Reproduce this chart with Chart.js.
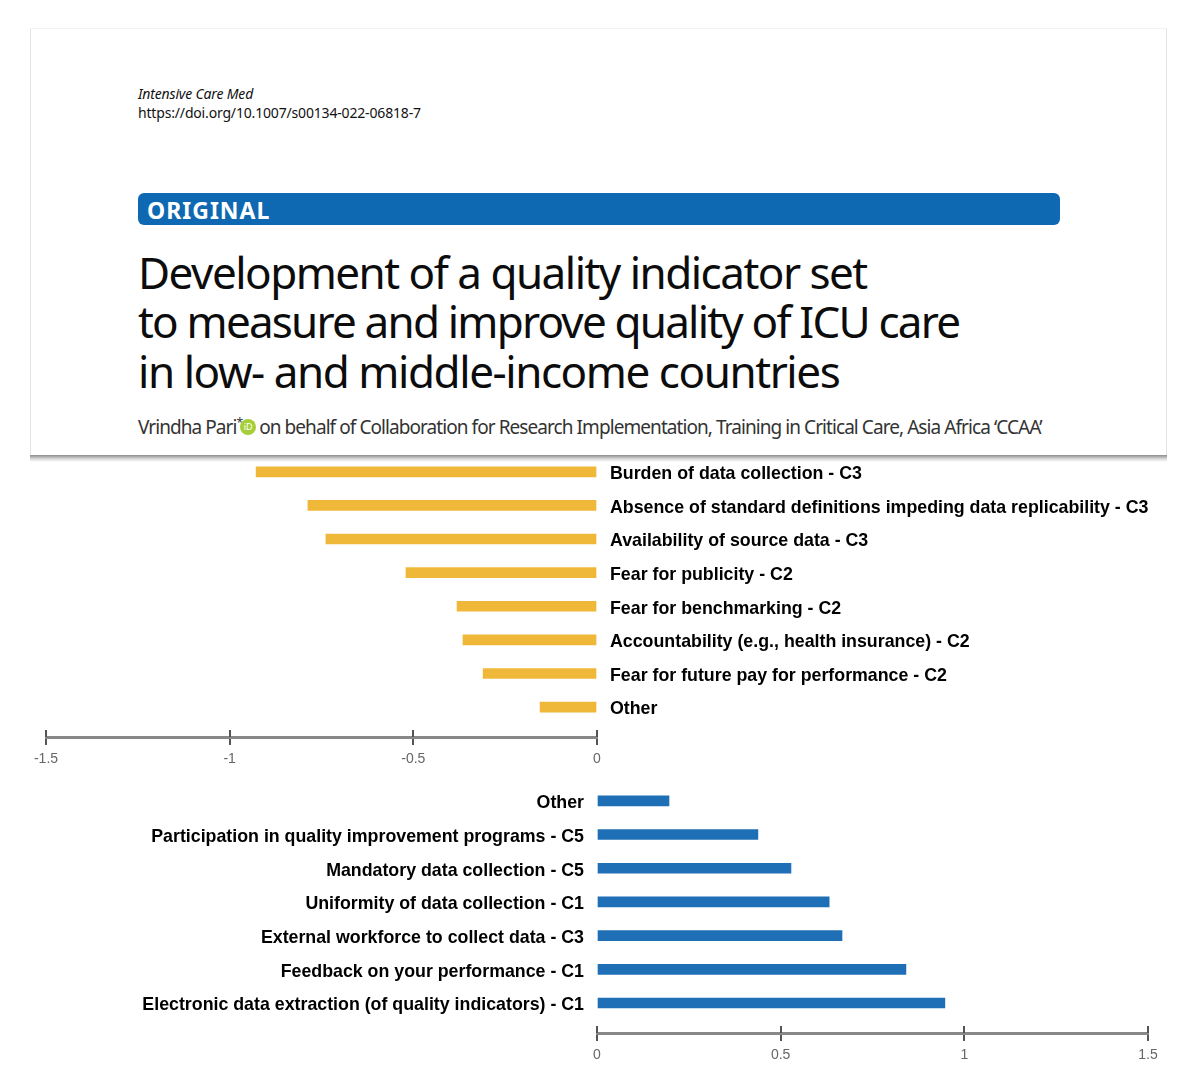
<!DOCTYPE html>
<html>
<head>
<meta charset="utf-8">
<title>ICU quality indicators</title>
<script src="https://cdn.jsdelivr.net/npm/chart.js"></script>
<style>
    html, body { margin: 0; padding: 0; background: #fff; }
    body { position: relative; width: 1200px; height: 1082px; overflow: hidden; font-family: "Noto Sans", sans-serif; color: #111; }
    .paper { position: absolute; left: 30px; top: 28px; width: 1137px; height: 428px; background: #fff;
        border-left: 1px solid #e4e4e4; border-right: 1px solid #e4e4e4; border-top: 1px solid #f3f3f3; box-sizing: border-box; }
    .edge { position: absolute; left: 30px; top: 455px; width: 1137px; height: 7px;
        background: linear-gradient(#8c8c8c, #d8d8d8 55%, #ffffff); }
    .line { position: absolute; white-space: nowrap; }
    .journal { left: 138px; top: 84px; font-size: 14px; font-style: italic; letter-spacing: -0.17px; }
    .doi { left: 138px; top: 103px; font-size: 14px; letter-spacing: -0.17px; }
    .band { position: absolute; left: 138px; top: 193px; width: 922px; height: 32px; background: #0f69b2; border-radius: 6px; }
    .band span { position: absolute; left: 9px; top: 1px; color: #fff; font-weight: 700; font-size: 23px; letter-spacing: 1px; }
    .title { left: 138px; font-size: 44px; color: #0c0c0c; }
    .authors { left: 138px; top: 414px; font-size: 19px; letter-spacing: -0.93px; color: #333; }
    .authors sup { font-size: 12px; line-height: 0; }
    .orcid { display: inline-block; width: 16px; height: 16px; line-height: 16px; border-radius: 50%; background: #a6ce39;
        color: #fff; font-size: 9px; text-align: center; letter-spacing: 0; vertical-align: 4px; margin: 0 3px 0 -2px; }
    canvas { position: absolute; left: 0; }
</style>
</head>
<body>
<div class="paper"></div>
<div class="edge"></div>
<div class="line journal">Intensive Care Med</div>
<div class="line doi">https://doi.org/10.1007/s00134-022-06818-7</div>
<div class="band"><span>ORIGINAL</span></div>
<div class="line title" style="top:242px;letter-spacing:-1.51px">Development of a quality indicator set</div>
<div class="line title" style="top:291px;letter-spacing:-1.8px">to measure and improve quality of ICU care</div>
<div class="line title" style="top:341px;letter-spacing:-1.44px">in low- and middle-income countries</div>
<div class="line authors">Vrindha Pari<sup>*</sup><span class="orcid">iD</span>on behalf of Collaboration for Research Implementation, Training in Critical Care, Asia Africa ‘CCAA’</div>

<canvas id="barriers" width="1200" height="340" style="top:440px"></canvas>
<canvas id="facilitators" width="1200" height="312" style="top:770px"></canvas>

<script>
const barrierLabels = [
    'Burden of data collection - C3',
    'Absence of standard definitions impeding data replicability - C3',
    'Availability of source data - C3',
    'Fear for publicity - C2',
    'Fear for benchmarking - C2',
    'Accountability (e.g., health insurance) - C2',
    'Fear for future pay for performance - C2',
    'Other'
];
const barrierValues = [-0.928, -0.787, -0.738, -0.52, -0.381, -0.365, -0.31, -0.155];
const barrierTicks = [-1.5, -1, -0.5, 0];

const facilitatorLabels = [
    'Other',
    'Participation in quality improvement programs - C5',
    'Mandatory data collection - C5',
    'Uniformity of data collection - C1',
    'External workforce to collect data - C3',
    'Feedback on your performance - C1',
    'Electronic data extraction (of quality indicators) - C1'
];
const facilitatorValues = [0.196, 0.438, 0.528, 0.632, 0.667, 0.841, 0.947];
const facilitatorTicks = [0, 0.5, 1, 1.5];

const FONT = '"Liberation Sans", Arial, sans-serif';

// Chart.js ticks only go outward, the axis here has them crossing the line
const upperTicks = {
    id: 'upperTicks',
    afterDraw(chart) {
        const { ctx, scales: { x } } = chart;
        ctx.save();
        ctx.strokeStyle = '#555';
        ctx.lineWidth = 2;
        x.ticks.forEach(t => {
            const px = Math.round(x.getPixelForValue(t.value));
            ctx.beginPath();
            ctx.moveTo(px, x.top - 7);
            ctx.lineTo(px, x.top);
            ctx.stroke();
        });
        ctx.restore();
    }
};

function createBars(id, labels, values, tickValues, opts) {
    const points = values.map((v, i) => ({ x: v, y: i }));
    return new Chart(document.getElementById(id), {
        type: 'bar',
        data: {
            datasets: [{
                data: points,
                backgroundColor: opts.color,
                barThickness: 10,
                borderWidth: 0
            }]
        },
        options: {
            indexAxis: 'y',
            responsive: false,
            animation: false,
            layout: { padding: opts.padding },
            plugins: { legend: { display: false }, tooltip: { enabled: false } },
            scales: {
                x: {
                    type: 'linear',
                    min: tickValues[0],
                    max: tickValues[tickValues.length - 1],
                    afterBuildTicks: scale => { scale.ticks = tickValues.map(value => ({ value })); },
                    afterFit: scale => { scale.height = opts.axisHeight; },
                    grid: { drawOnChartArea: false, color: '#555', lineWidth: 2, tickLength: 8 },
                    border: { color: '#888', width: 3 },
                    ticks: {
                        color: '#666',
                        padding: 6,
                        maxRotation: 0,
                        font: { family: FONT, size: 14 },
                        callback: value => String(value)
                    }
                },
                y: {
                    type: 'linear',
                    offset: false,
                    position: opts.labelSide,
                    reverse: true,
                    min: -0.5,
                    max: opts.yMax,
                    afterBuildTicks: scale => { scale.ticks = labels.map((_, i) => ({ value: i })); },
                    afterFit: scale => {
                        scale.width = opts.labelWidth;
                        // label overhang would push the plot area down
                        scale.paddingTop = 0;
                        scale.paddingBottom = 0;
                    },
                    grid: { display: false, drawTicks: false },
                    border: { display: false },
                    ticks: {
                        color: '#000',
                        padding: 13,
                        labelOffset: 2.5,
                        autoSkip: false,
                        font: { family: FONT, size: 17.8, weight: 'bold' },
                        callback: value => labels[value]
                    }
                }
            }
        },
        plugins: [upperTicks]
    });
}

createBars('barriers', barrierLabels, barrierValues, barrierTicks, {
    color: '#f0b839',
    labelSide: 'right',
    labelWidth: 603,
    axisHeight: 43,
    yMax: 7.89,
    padding: { left: 46, top: 15 }
});

createBars('facilitators', facilitatorLabels, facilitatorValues, facilitatorTicks, {
    color: '#1f6fb6',
    labelSide: 'left',
    labelWidth: 597,
    axisHeight: 49,
    yMax: 6.89,
    padding: { right: 52, top: 14 }
});
</script>
</body>
</html>
